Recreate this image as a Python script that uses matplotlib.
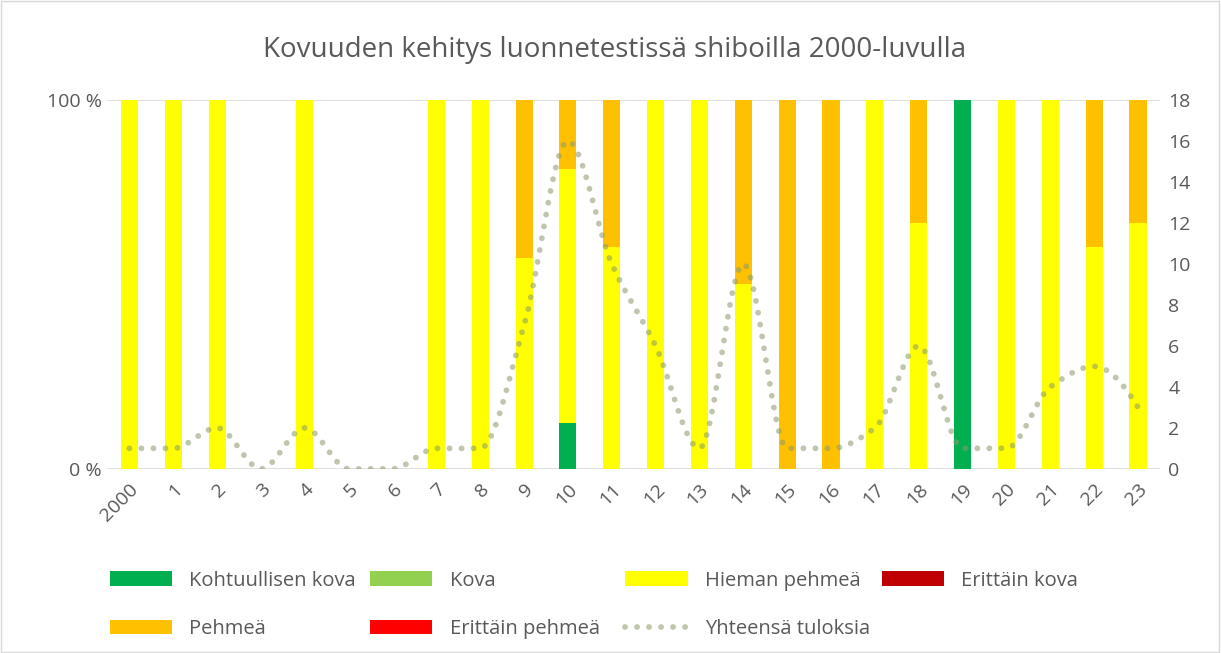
import numpy as np
import matplotlib
matplotlib.use("Agg")
import matplotlib.pyplot as plt
from matplotlib.patches import Patch
from matplotlib.lines import Line2D

plt.rcParams['font.family'] = ['Open Sans', 'DejaVu Sans']

categories = ['2000', '1', '2', '3', '4', '5', '6', '7', '8', '9', '10', '11',
              '12', '13', '14', '15', '16', '17', '18', '19', '20', '21', '22', '23']
kohtuullisen_kova = [0, 0, 0, 0, 0, 0, 0, 0, 0, 0, 2, 0, 0, 0, 0, 0, 0, 0, 0, 1, 0, 0, 0, 0]
kova              = [0] * 24
hieman_pehmea     = [1, 1, 2, 0, 2, 0, 0, 1, 1, 4, 11, 6, 6, 1, 5, 0, 0, 2, 4, 0, 1, 4, 3, 2]
erittain_kova     = [0] * 24
pehmea            = [0, 0, 0, 0, 0, 0, 0, 0, 0, 3, 3, 4, 0, 0, 5, 1, 1, 0, 2, 0, 0, 0, 2, 1]
erittain_pehmea   = [0] * 24
yhteensa          = [1, 1, 2, 0, 2, 0, 0, 1, 1, 7, 16, 10, 6, 1, 10, 1, 1, 2, 6, 1, 1, 4, 5, 3]

series = [
    ('Kohtuullisen kova', kohtuullisen_kova, '#00B050'),
    ('Kova', kova, '#92D050'),
    ('Hieman pehmeä', hieman_pehmea, '#FFFF00'),
    ('Erittäin kova', erittain_kova, '#C00000'),
    ('Pehmeä', pehmea, '#FFC000'),
    ('Erittäin pehmeä', erittain_pehmea, '#FF0000'),
]
line_color = '#8A9A6A'
text_color = '#595959'

fig = plt.figure(figsize=(12.21, 6.53), dpi=100)
fig.patches.append(plt.Rectangle((0.001, 0.002), 0.997, 0.996, transform=fig.transFigure,
                                 fill=False, edgecolor='#D9D9D9', linewidth=1))
ax = fig.add_axes([0.088, 0.282, 0.862, 0.565])

x = np.arange(len(categories))
totals = np.array([sum(s[1][i] for s in series) for i in range(len(categories))], dtype=float)
safe = np.where(totals == 0, 1, totals)
bottom = np.zeros(len(categories))
for name, vals, col in series:
    frac = np.array(vals) / safe
    ax.bar(x, frac, 0.39, bottom=bottom, color=col, zorder=2)
    bottom += frac

ax.set_xlim(-0.5, len(categories) - 0.5)
ax.set_ylim(0, 1)
ax.set_yticks([0, 1])
ax.set_yticklabels(['0 %', '100 %'])
ax.axhline(0, color='#D9D9D9', lw=1.2, zorder=1)
ax.axhline(1, color='#D9D9D9', lw=1.2, zorder=1)
for s in ax.spines.values():
    s.set_visible(False)
ax.tick_params(axis='y', length=0, labelsize=14, labelcolor=text_color, pad=4)
ax.set_xticks(x)
ax.set_xticklabels(categories, rotation=45, ha='right', rotation_mode='anchor')
ax.tick_params(axis='x', length=0, labelsize=14, labelcolor=text_color, pad=8)

ax2 = ax.twinx()
ax2.set_ylim(0, 18)
ax2.set_yticks(np.arange(0, 19, 2))
for s in ax2.spines.values():
    s.set_visible(False)
ax2.tick_params(axis='y', length=0, labelsize=14, labelcolor=text_color, pad=6)

# smoothed rendering of the total line (shape-preserving cubic through the data points)
y = np.array(yhteensa, dtype=float)
d = np.diff(y)
m = np.zeros_like(y)
for k in range(1, len(y) - 1):
    if d[k - 1] * d[k] > 0:
        m[k] = 2.0 / (1.0 / d[k - 1] + 1.0 / d[k])
def _end(d0, d1):
    v = (3 * d0 - d1) / 2.0
    if np.sign(v) != np.sign(d0):
        return 0.0
    if np.sign(d0) != np.sign(d1) and abs(v) > abs(3 * d0):
        return 3 * d0
    return v
m[0] = _end(d[0], d[1])
m[-1] = _end(d[-1], d[-2])
cx, cy = [], []
t = np.linspace(0, 1, 40)
for k in range(len(y) - 1):
    h00 = 2 * t**3 - 3 * t**2 + 1
    h10 = t**3 - 2 * t**2 + t
    h01 = -2 * t**3 + 3 * t**2
    h11 = t**3 - t**2
    seg = h00 * y[k] + h10 * m[k] + h01 * y[k + 1] + h11 * m[k + 1]
    sl = slice(0, None) if k == 0 else slice(1, None)
    cx.append((x[k] + t)[sl])
    cy.append(seg[sl])
cx = np.concatenate(cx)
cy = np.concatenate(cy)
dot_style = dict(color=line_color, alpha=0.55, lw=4.2, linestyle=(0, (0.01, 2.05)),
                 dash_capstyle='round')
ax2.plot(cx, cy, zorder=3, **dot_style)

fig.text(0.503, 0.923, 'Kovuuden kehitys luonnetestissä shiboilla 2000-luvulla',
         ha='center', va='center', fontsize=20, color=text_color)

# legend: 4 columns, 2 rows
handles = {name: Patch(facecolor=col, edgecolor='none') for name, _, col in series}
handles['Yhteensä tuloksia'] = Line2D([], [], **dot_style)
columns = [
    (['Kohtuullisen kova', 'Pehmeä'], 0.090),
    (['Kova', 'Erittäin pehmeä'], 0.303),
    (['Hieman pehmeä', 'Yhteensä tuloksia'], 0.512),
    (['Erittäin kova'], 0.722),
]
for names, xpos in columns:
    leg = fig.legend([handles[n] for n in names], names, loc='upper left',
                     bbox_to_anchor=(xpos, 0.126), bbox_transform=fig.transFigure,
                     frameon=False, fontsize=14.5, labelcolor=text_color,
                     handlelength=3.1, handleheight=0.75, handletextpad=0.85,
                     labelspacing=1.4, borderaxespad=0, borderpad=0)

fig.savefig('out.png', dpi=100)
